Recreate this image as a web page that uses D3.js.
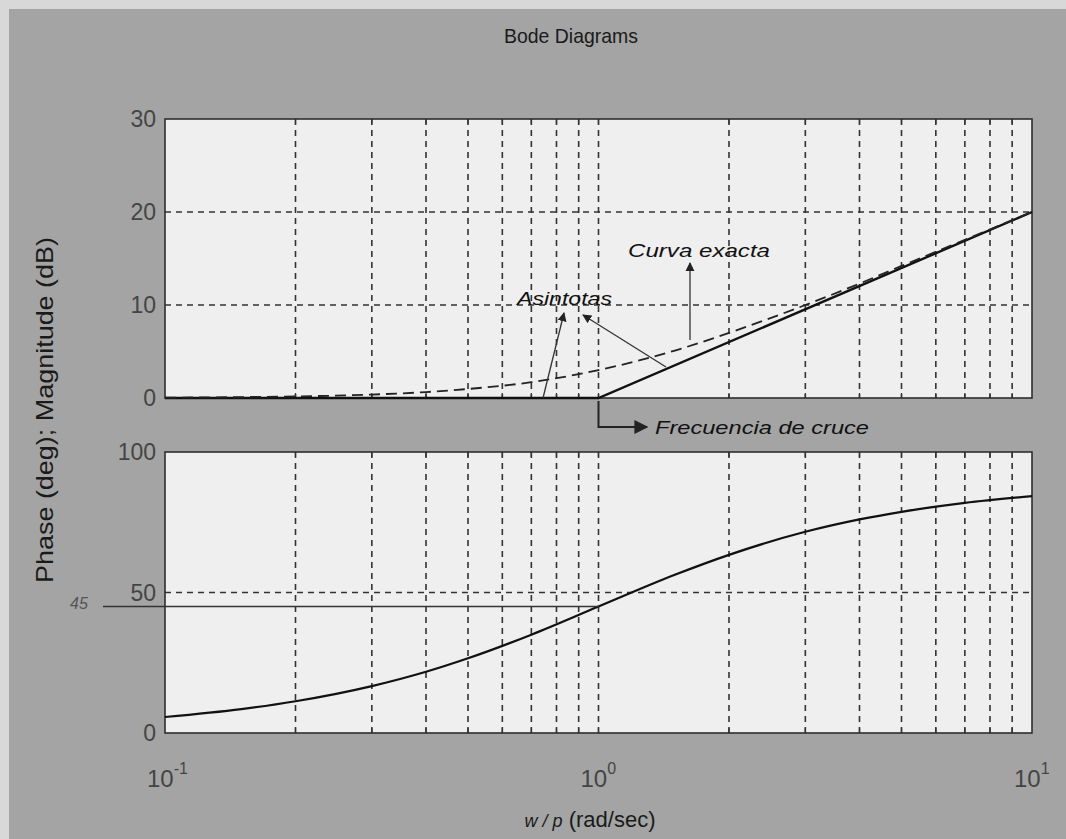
<!DOCTYPE html>
<html>
<head>
<meta charset="utf-8">
<script src="https://cdn.jsdelivr.net/npm/d3@7"></script>
<style>
  body { margin: 0; background: #a4a4a4; }
  svg { display: block; }
  text { font-family: "Liberation Sans", Arial, sans-serif; }
</style>
</head>
<body>
<svg id="chart" width="1066" height="839"></svg>
<script>
// values
const freq = [0.1, 0.15, 0.2, 0.3, 0.4, 0.5, 0.7, 1, 1.5, 2, 3, 4, 5, 7, 10];
const magExact = [0.04, 0.1, 0.17, 0.37, 0.64, 0.97, 1.7, 3.0, 5.1, 7.0, 10.0, 12.3, 14.2, 17.0, 20.0];
const phaseDeg = [5.7, 8.5, 11.3, 16.7, 21.8, 26.6, 35.0, 45.0, 56.3, 63.4, 71.6, 76.0, 78.7, 81.9, 84.3];
const asymFreq = [0.1, 1, 10];
const asymMag = [0, 0, 20];
const magTicks = [0, 10, 20, 30];
const phaseTicks = [0, 50, 100];
const decadeTicks = [{ v: 0.1, e: "-1" }, { v: 1, e: "0" }, { v: 10, e: "1" }];

const svg = d3.select("#chart");

// scanned page border
svg.append("rect").attr("x", 0).attr("y", 0).attr("width", 1066).attr("height", 9).attr("fill", "#d8d8d8");
svg.append("rect").attr("x", 0).attr("y", 0).attr("width", 9).attr("height", 839).attr("fill", "#d8d8d8");

const x = d3.scaleLog().domain([0.1, 10]).range([165, 1032]);
const yMag = d3.scaleLinear().domain([0, 30]).range([398, 119]);
const yPh = d3.scaleLinear().domain([0, 100]).range([733, 452]);

// minor log positions 0.2..0.9, 2..9
const minor = [];
[0.1, 1].forEach(d => { for (let k = 2; k <= 9; k++) minor.push(+(d * k).toFixed(3)); });

function panel(y, ticks, gridY) {
    const g = svg.append("g");
    const [y0, y1] = y.range();
    g.append("rect")
        .attr("x", x.range()[0]).attr("y", y1)
        .attr("width", x.range()[1] - x.range()[0]).attr("height", y0 - y1)
        .attr("fill", "#efefef");

    // vertical grid
    g.selectAll(".vg").data(minor.concat([1])).enter().append("line")
        .attr("x1", d => x(d)).attr("x2", d => x(d))
        .attr("y1", y1).attr("y2", y0)
        .attr("stroke", "#333").attr("stroke-width", 1.6)
        .attr("stroke-dasharray", "6,5");
    // horizontal grid
    g.selectAll(".hg").data(gridY).enter().append("line")
        .attr("x1", x.range()[0]).attr("x2", x.range()[1])
        .attr("y1", d => y(d)).attr("y2", d => y(d))
        .attr("stroke", "#333").attr("stroke-width", 1.6)
        .attr("stroke-dasharray", "6,5");

    // inward ticks on top and bottom
    g.selectAll(".tb").data(minor.concat([1])).enter().append("line")
        .attr("x1", d => x(d)).attr("x2", d => x(d))
        .attr("y1", y0).attr("y2", y0 - 5)
        .attr("stroke", "#333").attr("stroke-width", 1.2);
    g.selectAll(".tt").data(minor.concat([1])).enter().append("line")
        .attr("x1", d => x(d)).attr("x2", d => x(d))
        .attr("y1", y1).attr("y2", y1 + 5)
        .attr("stroke", "#333").attr("stroke-width", 1.2);

    g.append("rect")
        .attr("x", x.range()[0]).attr("y", y1)
        .attr("width", x.range()[1] - x.range()[0]).attr("height", y0 - y1)
        .attr("fill", "none").attr("stroke", "#2e2e2e").attr("stroke-width", 1.6);

    g.selectAll(".yl").data(ticks).enter().append("text")
        .attr("x", 156).attr("y", d => y(d) + 8)
        .attr("text-anchor", "end")
        .attr("font-size", 23).attr("fill", "#444")
        .text(d => d);
    return g;
}

panel(yMag, magTicks, [10, 20]);
panel(yPh, phaseTicks, [50]);

// magnitude: asymptotes (solid) and exact curve (dashed)
svg.append("path")
    .attr("d", d3.line().x(d => x(d[0])).y(d => yMag(d[1]))(asymFreq.map((f, i) => [f, asymMag[i]])))
    .attr("fill", "none").attr("stroke", "#111").attr("stroke-width", 2.4);
svg.append("path")
    .attr("d", d3.line().x(d => x(d[0])).y(d => yMag(d[1])).curve(d3.curveMonotoneX)(freq.map((f, i) => [f, magExact[i]])))
    .attr("fill", "none").attr("stroke", "#222").attr("stroke-width", 1.8)
    .attr("stroke-dasharray", "11,6");

// phase
svg.append("path")
    .attr("d", d3.line().x(d => x(d[0])).y(d => yPh(d[1])).curve(d3.curveMonotoneX)(freq.map((f, i) => [f, phaseDeg[i]])))
    .attr("fill", "none").attr("stroke", "#111").attr("stroke-width", 2.2);

// 45 deg reference line
svg.append("line")
    .attr("x1", 103).attr("x2", x(1))
    .attr("y1", yPh(45)).attr("y2", yPh(45))
    .attr("stroke", "#333").attr("stroke-width", 1.6);
svg.append("text")
    .attr("x", 70).attr("y", yPh(45) + 2)
    .attr("font-size", 16).attr("font-style", "italic").attr("fill", "#555")
    .text("45");

// x tick labels
decadeTicks.forEach(t => {
    const tx = svg.append("text")
        .attr("x", x(t.v) - 18).attr("y", 787)
        .attr("font-size", 24).attr("fill", "#444");
    tx.append("tspan").text("10");
    tx.append("tspan").attr("dy", -13).attr("font-size", 16).text(t.e);
});

// titles
svg.append("text")
    .attr("x", 571).attr("y", 43)
    .attr("text-anchor", "middle").attr("font-size", 21).attr("fill", "#1a1a1a")
    .attr("textLength", 134).attr("lengthAdjust", "spacingAndGlyphs")
    .text("Bode Diagrams");

const xl = svg.append("text")
    .attr("x", 590).attr("y", 827)
    .attr("text-anchor", "middle").attr("font-size", 22).attr("fill", "#1a1a1a");
xl.append("tspan").attr("font-style", "italic").attr("font-size", 18).text("w / p");
xl.append("tspan").text("  (rad/sec)");

svg.append("text")
    .attr("transform", "translate(53,410) rotate(-90)")
    .attr("text-anchor", "middle").attr("font-size", 24).attr("fill", "#1a1a1a")
    .attr("textLength", 346).attr("lengthAdjust", "spacingAndGlyphs")
    .text("Phase (deg); Magnitude (dB)");

// annotations
const defs = svg.append("defs");
defs.append("marker").attr("id", "arr")
    .attr("viewBox", "0 0 10 10").attr("refX", 9).attr("refY", 5)
    .attr("markerWidth", 7).attr("markerHeight", 7).attr("orient", "auto")
    .append("path").attr("d", "M0,0 L10,5 L0,10 z").attr("fill", "#222");

function arrow(x1, y1, x2, y2, w) {
    svg.append("line")
        .attr("x1", x1).attr("y1", y1).attr("x2", x2).attr("y2", y2)
        .attr("stroke", "#333").attr("stroke-width", w || 1.3)
        .attr("marker-end", "url(#arr)");
}

function note(tx, ty, len, label) {
    svg.append("text")
        .attr("x", tx).attr("y", ty)
        .attr("font-size", 19).attr("font-style", "italic").attr("fill", "#111")
        .attr("textLength", len).attr("lengthAdjust", "spacingAndGlyphs")
        .text(label);
}

note(628, 257, 142, "Curva exacta");
arrow(690, 340, 690, 263);

note(517, 305, 95, "Asintotas");
arrow(543, 398, 564, 313);
arrow(666, 367, 583, 315);

svg.append("path")
    .attr("d", `M${x(1)},401 L${x(1)},427 L647,427`)
    .attr("fill", "none").attr("stroke", "#222").attr("stroke-width", 2)
    .attr("marker-end", "url(#arr)");
note(655, 434, 214, "Frecuencia de cruce");
</script>
</body>
</html>
